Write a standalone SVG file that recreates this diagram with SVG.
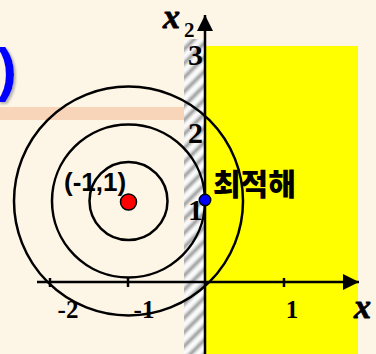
<svg xmlns="http://www.w3.org/2000/svg" width="376" height="354" viewBox="0 0 376 354">
<defs>
<linearGradient id="stripe" x1="0" y1="0" x2="0" y2="1">
<stop offset="0" stop-color="#ffffff"/>
<stop offset="0.2" stop-color="#eeeeee"/>
<stop offset="0.5" stop-color="#9c9c9c"/>
<stop offset="0.8" stop-color="#eeeeee"/>
<stop offset="1" stop-color="#ffffff"/>
</linearGradient>
<pattern id="hatch" patternUnits="userSpaceOnUse" width="20" height="10" patternTransform="rotate(-45)">
<rect width="20" height="10" fill="url(#stripe)"/>
</pattern>
<marker id="arr" viewBox="0 0 10 10" refX="10" refY="5" markerWidth="16" markerHeight="16" markerUnits="userSpaceOnUse" orient="auto">
<path d="M0,0 L10,5 L0,10 Z" fill="#000"/>
</marker>
<filter id="shadow" x="-50%" y="-20%" width="200%" height="140%">
<feDropShadow dx="2" dy="2" stdDeviation="1.2" flood-color="#888" flood-opacity="0.6"/>
</filter>
<style>
.axis{stroke:#000;stroke-width:2.5;fill:none}
.circ{stroke:#000;stroke-width:2.5;fill:none}
.num{font-family:"Liberation Serif","Times New Roman",serif;font-weight:bold;fill:#000}
.var{font-family:"Liberation Serif","Times New Roman",serif;font-weight:bold;font-style:italic;fill:#000;stroke:#000;stroke-width:0.8}
.lab{font-family:"Liberation Sans",Arial,sans-serif;font-weight:bold;fill:#000}
.kor{font-family:"Noto Sans CJK KR","Noto Sans",sans-serif;font-weight:900;fill:#000}
</style>
</defs>
<rect width="376" height="354" fill="#FDF5E6"/>
<rect x="0" y="107" width="184" height="13" fill="#F8D5B8"/>
<g id="title-fragment">
<text x="17" y="90" font-family="'Liberation Sans',Arial,sans-serif" font-weight="bold" font-size="60" fill="#0000FF" text-anchor="end" filter="url(#shadow)">)</text>
</g>
<g id="feasible-region">
<rect x="205" y="46" width="153" height="308" fill="#FFFF00"/>
</g>
<g id="constraint-boundary">
<rect x="184" y="39" width="20" height="315" fill="url(#hatch)"/>
</g>
<g id="contours">
<circle class="circ" cx="128.5" cy="201" r="39"/>
<circle class="circ" cx="128.5" cy="201" r="76.5"/>
<circle class="circ" cx="128.5" cy="201" r="114.5"/>
</g>
<g id="connectors">
<line class="axis" x1="37" y1="282" x2="359" y2="282" marker-end="url(#arr)"/>
<line class="axis" x1="205" y1="354" x2="205" y2="15" marker-end="url(#arr)"/>
<line class="axis" x1="50" y1="278" x2="50" y2="287" stroke-width="2"/>
<line class="axis" x1="128" y1="278" x2="128" y2="287" stroke-width="2"/>
<line class="axis" x1="284" y1="278" x2="284" y2="287" stroke-width="2"/>
</g>
<g id="center">
<circle cx="128.5" cy="202" r="8" fill="#FF0000" stroke="#000" stroke-width="1.5"/>
<text class="lab" x="64" y="191" font-size="26">(-1,1)</text>
</g>
<g id="optimum">
<circle cx="205" cy="200" r="5.7" fill="#0000FF" stroke="#000" stroke-width="1.5"/>
<text class="kor" x="213" y="195" font-size="30">최적해</text>
</g>
<g id="labels">
<text class="var" x="163" y="28" font-size="34">x</text>
<text class="num" x="184" y="37" font-size="21">2</text>
<text class="var" x="354" y="318" font-size="34">x</text>
<text class="num" x="203" y="65" font-size="30" text-anchor="end">3</text>
<text class="num" x="203" y="143" font-size="30" text-anchor="end">2</text>
<text class="num" x="203" y="220" font-size="30" text-anchor="end">1</text>
<text class="num" x="68" y="318" font-size="25" text-anchor="middle">-2</text>
<text class="num" x="144" y="318" font-size="25" text-anchor="middle">-1</text>
<text class="num" x="292" y="318" font-size="25" text-anchor="middle">1</text>
</g>
</svg>
